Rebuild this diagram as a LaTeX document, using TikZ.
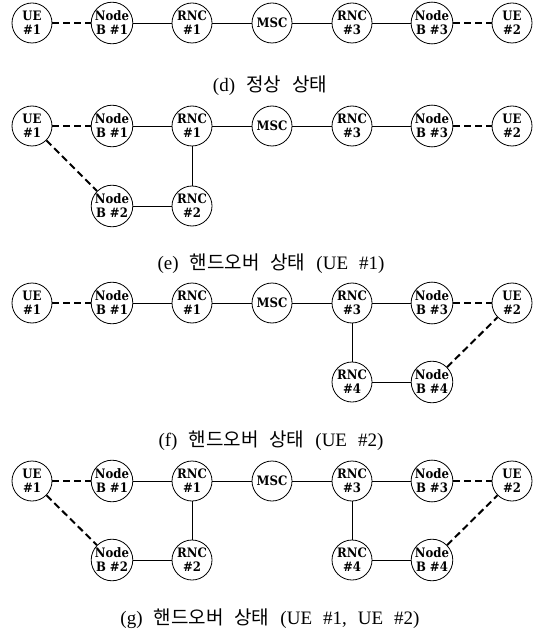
\documentclass[tikz,border=0pt]{standalone}
\usepackage{fontspec}
\setmainfont{Liberation Serif}
\newfontfamily\kr{Noto Sans CJK KR}
\newfontfamily\ndfont{DejaVu Serif Condensed}

% one row of the network: UE #1 - Node B #1 - RNC #1 - MSC - RNC #3 - Node B #3 - UE #2
\newcommand\mainrow[2]{%
  \node[nd] (#1ue1)  at (32,#2)  {UE\\\#1};
  \node[nd] (#1nb1)  at (112,#2) {Node\\B \#1};
  \node[nd] (#1rnc1) at (192,#2) {RNC\\\#1};
  \node[nd] (#1msc)  at (272,#2) {MSC};
  \node[nd] (#1rnc3) at (352,#2) {RNC\\\#3};
  \node[nd] (#1nb3)  at (432,#2) {Node\\B \#3};
  \node[nd] (#1ue2)  at (512,#2) {UE\\\#2};
  \draw[radio] (#1ue1) -- (#1nb1);
  \draw[wire] (#1nb1) -- (#1rnc1) -- (#1msc) -- (#1rnc3) -- (#1nb3);
  \draw[radio] (#1nb3) -- (#1ue2);
}
% handover branch of UE #1 through Node B #2 and RNC #2
\newcommand\leftbranch[2]{%
  \node[nd] (#1nb2)  at (112,#2) {Node\\B \#2};
  \node[nd] (#1rnc2) at (192,#2) {RNC\\\#2};
  \draw[radio] (#1ue1) -- (#1nb2);
  \draw[wire] (#1nb2) -- (#1rnc2) -- (#1rnc1);
}
% handover branch of UE #2 through Node B #4 and RNC #4
\newcommand\rightbranch[2]{%
  \node[nd] (#1rnc4) at (352,#2) {RNC\\\#4};
  \node[nd] (#1nb4)  at (432,#2) {Node\\B \#4};
  \draw[wire] (#1rnc3) -- (#1rnc4) -- (#1nb4);
  \draw[radio] (#1nb4) -- (#1ue2);
}

\begin{document}
\begin{tikzpicture}[x=1pt,y=-1pt,
  nd/.style={circle, draw, line width=0.8pt, minimum size=40pt, inner sep=0pt,
    align=center, font={\ndfont\fontsize{13}{14}\selectfont\bfseries}},
  wire/.style={line width=0.8pt},
  radio/.style={line width=2pt, dash pattern=on 7pt off 4pt},
  caption/.style={inner sep=0pt, font={\fontsize{19}{19}\selectfont\spaceskip=11pt\relax}}]
\useasboundingbox (0,0) rectangle (539,636);

% (d) normal state
\mainrow{d}{23}
\node[caption] (dcap) at (270,86) {(d) {\kr 정상} {\kr 상태}};

% (e) handover of UE #1
\mainrow{e}{126}
\leftbranch{e}{206}
\node[caption] (ecap) at (271,264) {(e) {\kr 핸드오버} {\kr 상태} (UE \#1)};

% (f) handover of UE #2
\mainrow{f}{303}
\rightbranch{f}{382}
\node[caption] (fcap) at (271,441) {(f) {\kr 핸드오버} {\kr 상태} (UE \#2)};

% (g) handover of both UEs
\mainrow{g}{481}
\leftbranch{g}{560}
\rightbranch{g}{560}
\node[caption] (gcap) at (270,619) {(g) {\kr 핸드오버} {\kr 상태} (UE \#1, UE \#2)};
\end{tikzpicture}
\end{document}
